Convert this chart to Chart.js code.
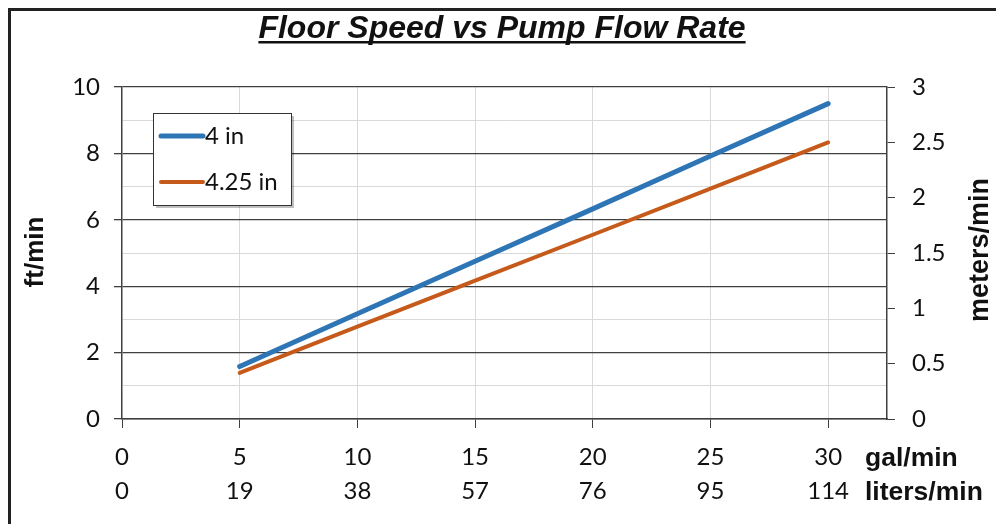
<!DOCTYPE html>
<html>
<head>
<meta charset="utf-8">
<script src="https://cdn.jsdelivr.net/npm/chart.js@4.4.1/dist/chart.umd.min.js"></script>
<style>
  html, body { margin:0; padding:0; background:#fff; }
  canvas { display:block; }
</style>
</head>
<body>
<canvas id="speedChart" width="996" height="524"></canvas>
<script>
// Datos
const flowGal = [5, 10, 15, 20, 25, 30];
const speed4in = [1.58, 3.17, 4.75, 6.33, 7.92, 9.5];
const speed425in = [1.39, 2.78, 4.17, 5.55, 6.94, 8.33];
const galTicks = [0, 5, 10, 15, 20, 25, 30];
const literTicks = [0, 19, 38, 57, 76, 95, 114];
const seriesNames = ['4 in', '4.25 in'];
const seriesColors = ['#2E75B6', '#C55A1A'];

const tickFont = { family: 'Lato', size: 24, lineHeight: 34 / 24 };
const dark = '#404040';
const light = '#d9d9d9';

function pts(ys){ return flowGal.map((x,i)=>({ x: x, y: ys[i] })); }

// --- dibujos extra: marco, título, leyenda, unidades ---
const extras = {
  id: 'extras',
  afterDraw(chart){
    const c = chart.ctx;
    c.save();
    // marco
    c.fillStyle = '#222';
    c.fillRect(8, 8, 988, 3);
    c.fillRect(8, 8, 3, 516);

    // título
    c.fillStyle = '#111';
    c.font = 'italic bold 32px "Liberation Sans", Arial, sans-serif';
    c.textAlign = 'center'; c.textBaseline = 'alphabetic';
    const title = 'Floor Speed vs Pump Flow Rate';
    c.fillText(title, 502, 38);
    const w = c.measureText(title).width;
    c.fillRect(502 - w/2, 41, w, 2.5);

    // títulos de ejes
    c.font = 'bold 26px "Liberation Sans", Arial, sans-serif';
    c.textAlign = 'center'; c.textBaseline = 'middle';
    c.save(); c.translate(36, 252); c.rotate(-Math.PI/2); c.fillText('ft/min', 0, 0); c.restore();
    c.font = 'bold 27px "Liberation Sans", Arial, sans-serif';
    c.save(); c.translate(981, 250); c.rotate(-Math.PI/2); c.fillText('meters/min', 0, 0); c.restore();

    // unidades eje x
    c.font = 'bold 26.5px "Liberation Sans", Arial, sans-serif';
    c.textAlign = 'left';
    c.fillText('gal/min', 865, 459);
    c.fillText('liters/min', 865, 493);

    // leyenda
    const lx = 153, ly = 113, lw = 138, lh = 92;
    c.fillStyle = 'rgba(0,0,0,0.25)';
    c.fillRect(lx + 3, ly + 3, lw, lh);
    c.fillStyle = '#fff';
    c.fillRect(lx, ly, lw, lh);
    c.strokeStyle = '#333'; c.lineWidth = 1;
    c.strokeRect(lx + 0.5, ly + 0.5, lw, lh);
    c.font = '24px Lato, sans-serif';
    c.textBaseline = 'middle';
    const rows = [136, 182];
    seriesNames.forEach((name, i)=>{
      c.strokeStyle = seriesColors[i]; c.lineWidth = i === 0 ? 5 : 4; c.lineCap = 'round';
      c.beginPath(); c.moveTo(161, rows[i]); c.lineTo(203, rows[i]); c.stroke();
      c.fillStyle = '#111';
      c.fillText(name, 205, rows[i]);
    });
    c.restore();
  }
};

new Chart(document.getElementById('speedChart').getContext('2d'), {
  type: 'line',
  data: {
    datasets: [
      { label: seriesNames[0], data: pts(speed4in), borderColor: seriesColors[0], borderWidth: 5, pointRadius: 0, borderCapStyle: 'round', yAxisID: 'y' },
      { label: seriesNames[1], data: pts(speed425in), borderColor: seriesColors[1], borderWidth: 4, pointRadius: 0, borderCapStyle: 'round', yAxisID: 'y' }
    ]
  },
  options: {
    responsive: false,
    animation: false,
    layout: { padding: { top: 87, left: 0, right: 0, bottom: 0 } },
    plugins: { legend: { display: false }, title: { display: false }, tooltip: { enabled: false } },
    scales: {
      x: {
        type: 'linear', min: 0, max: 32.5,
        afterBuildTicks: s => { s.ticks = galTicks.map(v => ({ value: v })); },
        afterFit: s => { s.height = 105; },
        ticks: {
          font: tickFont, color: '#111', padding: 12, maxRotation: 0, autoSkip: false,
          callback: (v, i) => [String(galTicks[i]), String(literTicks[i])]
        },
        grid: {
          color: ctx => (ctx.tick && ctx.tick.value === 0) ? 'rgba(0,0,0,0)' : light,
          tickColor: dark, tickLength: 9, lineWidth: 1
        },
        border: { color: dark, width: 1.5 }
      },
      y: {
        position: 'left', min: 0, max: 10,
        afterBuildTicks: s => { s.ticks = [0,1,2,3,4,5,6,7,8,9,10].map(v => ({ value: v })); },
        afterFit: s => { s.width = 122; },
        ticks: {
          font: { family: 'Lato', size: 24 }, color: '#111', padding: 14,
          callback: v => (v % 2 === 0 ? String(v) : '')
        },
        grid: {
          color: ctx => (ctx.tick && ctx.tick.value % 2 === 0) ? dark : light,
          tickColor: ctx => (ctx.tick && ctx.tick.value % 2 === 0) ? dark : 'rgba(0,0,0,0)',
          lineWidth: ctx => (ctx.tick && ctx.tick.value % 2 === 0) ? 1.3 : 1,
          tickLength: 8
        },
        border: { color: dark, width: 1.5 }
      },
      y2: {
        position: 'right', min: 0, max: 3,
        afterFit: s => { s.width = 109; },
        ticks: {
          stepSize: 0.5, font: { family: 'Lato', size: 24 }, color: '#111', padding: 17,
          callback: v => String(v)
        },
        grid: { drawOnChartArea: false, tickColor: dark, tickLength: 8 },
        border: { color: dark, width: 1.5 }
      }
    }
  },
  plugins: [extras]
});
</script>
</body>
</html>
